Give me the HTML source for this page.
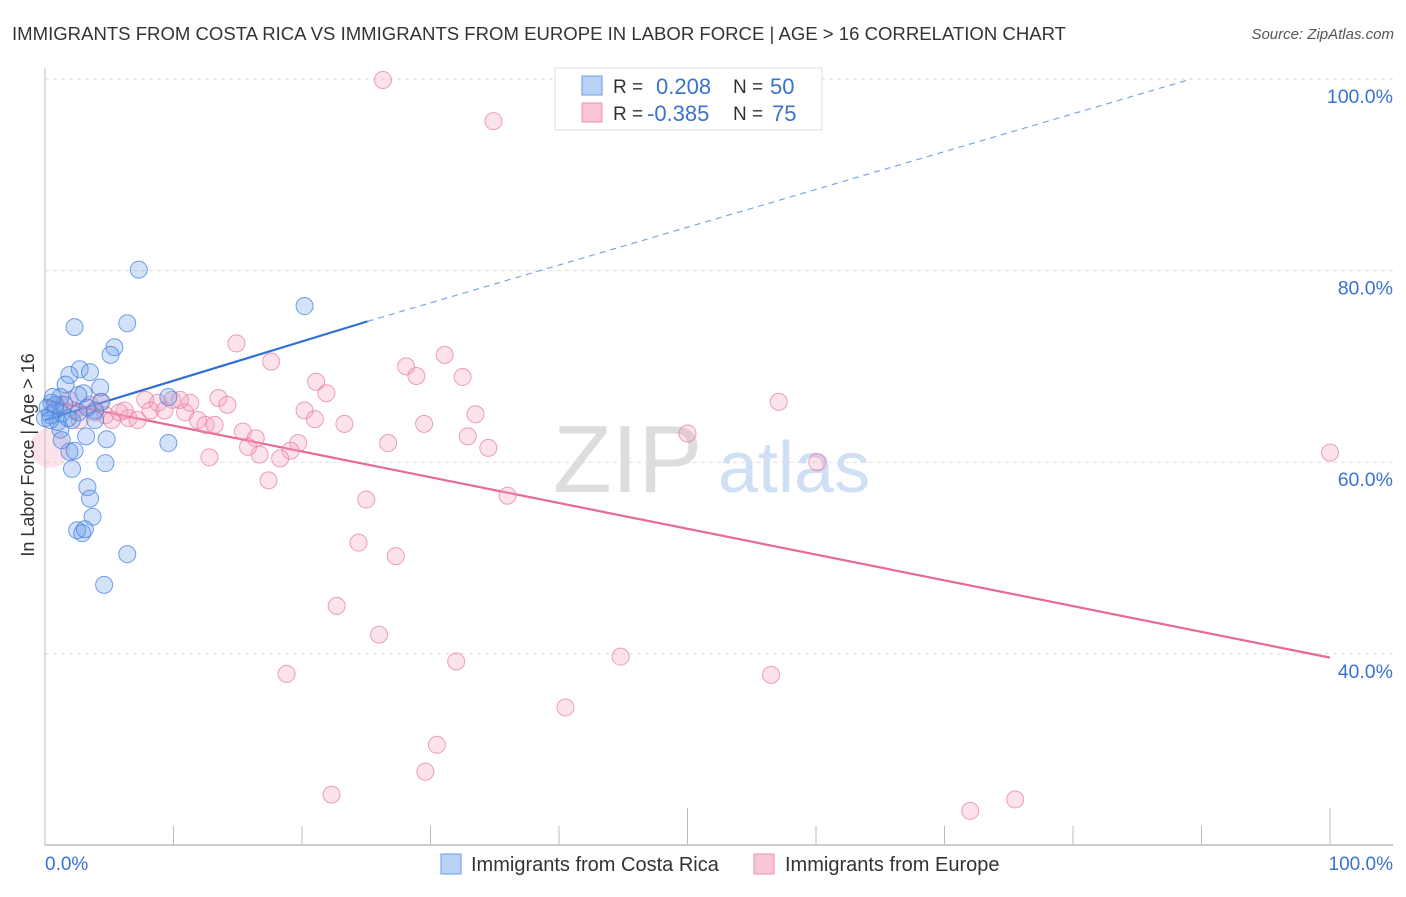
<!DOCTYPE html>
<html><head><meta charset="utf-8"><style>
body{margin:0;background:#fff;font-family:"Liberation Sans",sans-serif;}
svg text{font-family:"Liberation Sans",sans-serif;}
</style></head><body>
<svg id="chart" width="1406" height="892" xmlns="http://www.w3.org/2000/svg">
<text x="12" y="40" font-size="18" fill="#333" textLength="1054" lengthAdjust="spacingAndGlyphs">IMMIGRANTS FROM COSTA RICA VS IMMIGRANTS FROM EUROPE IN LABOR FORCE | AGE &gt; 16 CORRELATION CHART</text>
<text x="1394" y="39" font-size="15" fill="#555" font-style="italic" text-anchor="end">Source: ZipAtlas.com</text>
<g>
<text x="553" y="492" font-size="96" fill="#ddd" font-family="Liberation Serif, serif">ZIP</text>
<text x="718" y="492" font-size="72" fill="#cfe0f5">atlas</text>
</g>
<g id="grid"></g>
<g id="axes"></g>
<g id="trend"></g>
<g id="points"></g>
<text x="34" y="455" font-size="18" fill="#333" transform="rotate(-90 34 455)" text-anchor="middle">In Labor Force | Age &gt; 16</text>
<g>
<rect x="555" y="68" width="267" height="62" fill="#fff" stroke="#ddd"/>
<rect x="582" y="76" width="20" height="19" fill="#b8d3f5" stroke="#6a9ee0"/>
<rect x="582" y="103" width="20" height="19" fill="#f9c6d6" stroke="#e890ae"/>
<text x="613" y="93" font-size="19" fill="#333">R =</text>
<text x="656" y="94" font-size="22" fill="#3a72d0">0.208</text>
<text x="733" y="93" font-size="19" fill="#333">N =</text>
<text x="770" y="94" font-size="22" fill="#3a72d0">50</text>
<text x="613" y="120" font-size="19" fill="#333">R =</text>
<text x="647" y="121" font-size="22" fill="#3a72d0">-0.385</text>
<text x="733" y="120" font-size="19" fill="#333">N =</text>
<text x="772" y="121" font-size="22" fill="#3a72d0">75</text>
</g>
<g>
<rect x="441" y="854" width="20" height="20" fill="#b8d3f5" stroke="#6a9ee0"/>
<text x="471" y="871" font-size="20" fill="#333">Immigrants from Costa Rica</text>
<rect x="754" y="854" width="20" height="20" fill="#f9c6d6" stroke="#e890ae"/>
<text x="785" y="871" font-size="20" fill="#333">Immigrants from Europe</text>
</g>
</svg>
<script>
const blueX=[7.3,20.2,2.3,6.4,5.4,5.1,2.7,1.9,3.5,1.6,4.3,3.0,4.4,1.2,9.6,0.5,0.2,0.8,1.3,2.1,1.0,0.4,0.0,3.9,3.3,3.2,4.8,9.6,1.9,2.3,4.7,2.1,3.3,3.5,3.7,2.5,2.9,3.1,6.4,4.6,1.2,1.5,0.8,0.4,1.8,2.6,2.6,1.3,3.9,0.6];
const blueY=[80.1,76.3,74.1,74.5,72.0,71.2,69.7,69.1,69.4,68.1,67.8,67.2,66.3,66.8,66.8,66.2,65.7,65.4,65.1,64.4,64.2,64.9,64.6,65.4,65.7,62.7,62.4,62.0,61.1,61.2,59.9,59.3,57.4,56.2,54.3,52.9,52.6,53.0,50.4,47.2,63.4,66.0,66.0,64.4,64.6,67.0,65.2,62.3,64.4,66.8];
const pinkX=[26.3,34.9,14.9,17.6,28.1,31.1,28.9,32.5,21.1,21.9,7.8,9.9,13.5,14.2,20.2,21.0,23.3,33.5,29.5,57.1,50.0,32.9,34.5,26.7,15.4,16.4,19.7,19.1,18.3,12.8,16.7,15.8,17.4,60.1,100,36.0,25.0,24.4,27.3,22.7,26.0,18.8,32.0,44.8,56.5,40.5,30.5,29.6,22.3,72.0,75.5,1.2,2.3,3.5,4.3,4.7,5.2,5.8,6.5,7.2,8.2,8.8,9.3,10.9,11.3,11.9,12.5,13.2,2.7,3.9,1.9,6.2,10.5,0.4];
const pinkY=[99.9,95.6,72.4,70.5,70.0,71.2,69.0,68.9,68.4,67.2,66.5,66.5,66.7,66.0,65.4,64.5,64.0,65.0,64.0,66.3,63.0,62.7,61.5,62.0,63.2,62.5,62.0,61.2,60.4,60.5,60.8,61.6,58.1,60.0,61.0,56.5,56.1,51.6,50.2,45.0,42.0,37.9,39.2,39.7,37.8,34.4,30.5,27.7,25.3,23.6,24.8,66.0,65.4,66.0,66.3,64.9,64.4,65.2,64.6,64.4,65.4,66.2,65.4,65.2,66.2,64.4,63.9,63.9,64.4,65.2,66.5,65.4,66.5,61.5];
const yTicks=[100,80,60,40];
const yTickLabels=["100.0%","80.0%","60.0%","40.0%"];
const xTicks=[0,10,20,30,40,50,60,70,80,90,100];
const blueTrendX=[0,25.1,89.2];
const blueTrendY=[64.4,74.7,100];
const pinkTrendX=[0,100];
const pinkTrendY=[66.5,39.6];

const NS="http://www.w3.org/2000/svg";
const sx=v=>45+v*12.85;
const sy=v=>79+(100-v)*9.58;
function mk(tag,attrs,parent){const e=document.createElementNS(NS,tag);for(const k in attrs)e.setAttribute(k,attrs[k]);parent.appendChild(e);return e;}
const grid=document.getElementById('grid'),axes=document.getElementById('axes'),trend=document.getElementById('trend'),pts=document.getElementById('points');
yTicks.forEach((t,i)=>{
  const l=mk('line',{x1:45,x2:1393,y1:sy(t),y2:sy(t),stroke:'#ddd','stroke-dasharray':'4 4'},grid);
  
  
  const tx=mk('text',{x:1393,y:sy(t)+24,'font-size':19.5,fill:'#3a72d0','text-anchor':'end'},axes);
  tx.textContent=yTickLabels[i];
  
  
});
const ya=mk('line',{x1:45,x2:45,y1:68,y2:845,stroke:'#bbb'},axes);


const xa=mk('line',{x1:45,x2:1393,y1:845,y2:845,stroke:'#bbb','stroke-width':1.5},axes);


xTicks.forEach(t=>{
  const long=(t===0||t===50||t===100);
  const tk=mk('line',{x1:sx(t),x2:sx(t),y1:long?808:826,y2:845,stroke:'#bbb'},axes);
  
  
});
const xl0=mk('text',{x:45,y:870,'font-size':19,fill:'#3a72d0'},axes);xl0.textContent='0.0%';


const xl1=mk('text',{x:1393,y:870,'font-size':19,fill:'#3a72d0','text-anchor':'end'},axes);xl1.textContent='100.0%';



const b1=mk('line',{x1:sx(blueTrendX[0]),y1:sy(blueTrendY[0]),x2:sx(blueTrendX[1]),y2:sy(blueTrendY[1]),stroke:'#2f6fd6','stroke-width':2.2},trend);


const b2=mk('line',{x1:sx(blueTrendX[1]),y1:sy(blueTrendY[1]),x2:sx(blueTrendX[2]),y2:sy(blueTrendY[2]),stroke:'#7aa5e4','stroke-width':1.2,'stroke-dasharray':'6 5'},trend);


const p1=mk('line',{x1:sx(pinkTrendX[0]),y1:sy(pinkTrendY[0]),x2:sx(pinkTrendX[1]),y2:sy(pinkTrendY[1]),stroke:'#e8689a','stroke-width':2.2},trend);



pinkX.forEach((x,i)=>{
  const big=(i===pinkX.length-1);
  const c=mk('circle',{cx:sx(x),cy:sy(pinkY[i]),r:big?20:8.5,fill:'rgba(246,160,190,0.3)',stroke:big?'none':'rgba(232,120,160,0.7)','stroke-width':1},pts);
  
  
});
blueX.forEach((x,i)=>{
  const c=mk('circle',{cx:sx(x),cy:sy(blueY[i]),r:8.5,fill:'rgba(110,160,235,0.3)',stroke:'rgba(70,130,220,0.75)','stroke-width':1},pts);
  
  
});
</script>
</body></html>
